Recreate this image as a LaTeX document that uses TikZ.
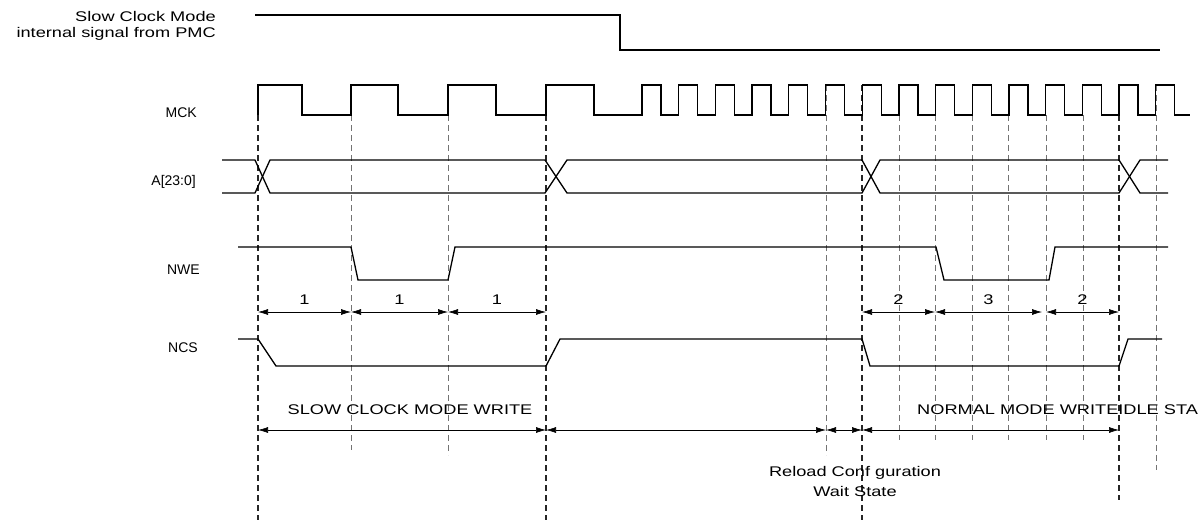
\documentclass[tikz,border=0pt]{standalone}
\usepackage{fontspec}
\setmainfont[FakeStretch=1.3]{Liberation Sans}
\newfontfamily\rowfont{Liberation Sans}
\usetikzlibrary{arrows.meta}
\begin{document}
\begin{tikzpicture}[x=1pt,y=-1pt,
  wave/.style={line width=1.3pt,line join=miter},
  heavy/.style={dashed,line width=1.2pt,dash pattern=on 6pt off 4pt,black!85},
  light/.style={dashed,line width=0.8pt,dash pattern=on 6pt off 4pt,black!55},
  dim/.style={line width=0.6pt,{Latex[length=10pt,width=6pt]}-{Latex[length=10pt,width=6pt]}},
  lbl/.style={font=\fontsize{14}{16}\selectfont,inner sep=0pt},
  rowlbl/.style={font=\rowfont\fontsize{14}{16}\selectfont,inner sep=0pt,anchor=east}]
\useasboundingbox (0,0) rectangle (1201,520);
% labels
\node[lbl,anchor=east,align=right] (scm) at (216,26) {Slow Clock Mode\\internal signal from PMC};
\node[rowlbl] (mck) at (197,113) {MCK};
\node[rowlbl] (addr) at (196,182) {A[23:0]};
\node[rowlbl] (nwe) at (200,270) {NWE};
\node[rowlbl] (ncs) at (198,348) {NCS};
% slow clock mode signal
\draw[wave] (255,15) -- (620,15) -- (620,50) -- (1160,50);
% dashed lines
\foreach \x/\e in {258/520,546/520,862/520}{\draw[heavy] (\x,85) -- (\x,\e);}
\draw[heavy] (1119,85) -- (1119,500);
\foreach \x/\e in {351/450,448/455}{\draw[light] (\x,115) -- (\x,\e);}
\draw[light] (826,85) -- (826,455);
\foreach \x in {899,935,972,1008,1046,1083}{\draw[light] (\x,115) -- (\x,440);}
\draw[light] (1156,85) -- (1156,470);
% MCK
\draw[wave] (258,115) -- (258,85) -- (302,85) -- (302,115) -- (351,115) -- (351,85) -- (398,85) -- (398,115)
  -- (448,115) -- (448,85) -- (496,85) -- (496,115) -- (546,115) -- (546,85) -- (594,85) -- (594,115) -- (642,115)
  \foreach \k in {0,...,14}{ -- ({642+36.7*\k},115) -- ({642+36.7*\k},85) -- ({661+36.7*\k},85) -- ({661+36.7*\k},115)} -- (1190,115);
% address
\draw[wave] (222,160) -- (255,160) -- (270,193) -- (545,193) -- (567,160) -- (862,160) -- (880,193) -- (1119,193) -- (1140,160) -- (1168,160);
\draw[wave] (222,193) -- (255,193) -- (270,160) -- (545,160) -- (567,193) -- (862,193) -- (880,160) -- (1119,160) -- (1140,193) -- (1168,193);
% NWE
\draw[wave] (238,247) -- (351,247) -- (358,280) -- (448,280) -- (455,247) -- (936,247) -- (944,280) -- (1049,280) -- (1055,247) -- (1168,247);
% NCS
\draw[wave] (238,339) -- (258,339) -- (276,366) -- (546,366) -- (560,339) -- (862,339) -- (870,366) -- (1119,366) -- (1128,339) -- (1162,339);
% dimension arrows
\draw[dim] (258,312) -- node[lbl,above=7pt] (d1) {1} (351,312);
\draw[dim] (351,312) -- node[lbl,above=7pt] (d2) {1} (448,312);
\draw[dim] (448,312) -- node[lbl,above=7pt] (d3) {1} (546,312);
\draw[dim] (862,312) -- node[lbl,above=7pt] (d4) {2} (935,312);
\draw[dim] (935,312) -- node[lbl,above=7pt] (d5) {3} (1042,312);
\draw[dim] (1046,312) -- node[lbl,above=7pt] (d6) {2} (1119,312);
\draw[dim] (258,430) -- (546,430);
\draw[dim] (546,430) -- (826,430);
\draw[dim] (826,430) -- (862,430);
\draw[dim] (862,430) -- (1119,430);
\node[lbl] (slow) at (410,410) {SLOW CLOCK MODE WRITE};
\node[lbl,anchor=west] (norm) at (917,410) {NORMAL MODE WRITEIDLE STA};
\node[lbl,align=center] (rel) at (855,481) {Reload Conf guration\\[4pt]Wait State};
\end{tikzpicture}
\end{document}
